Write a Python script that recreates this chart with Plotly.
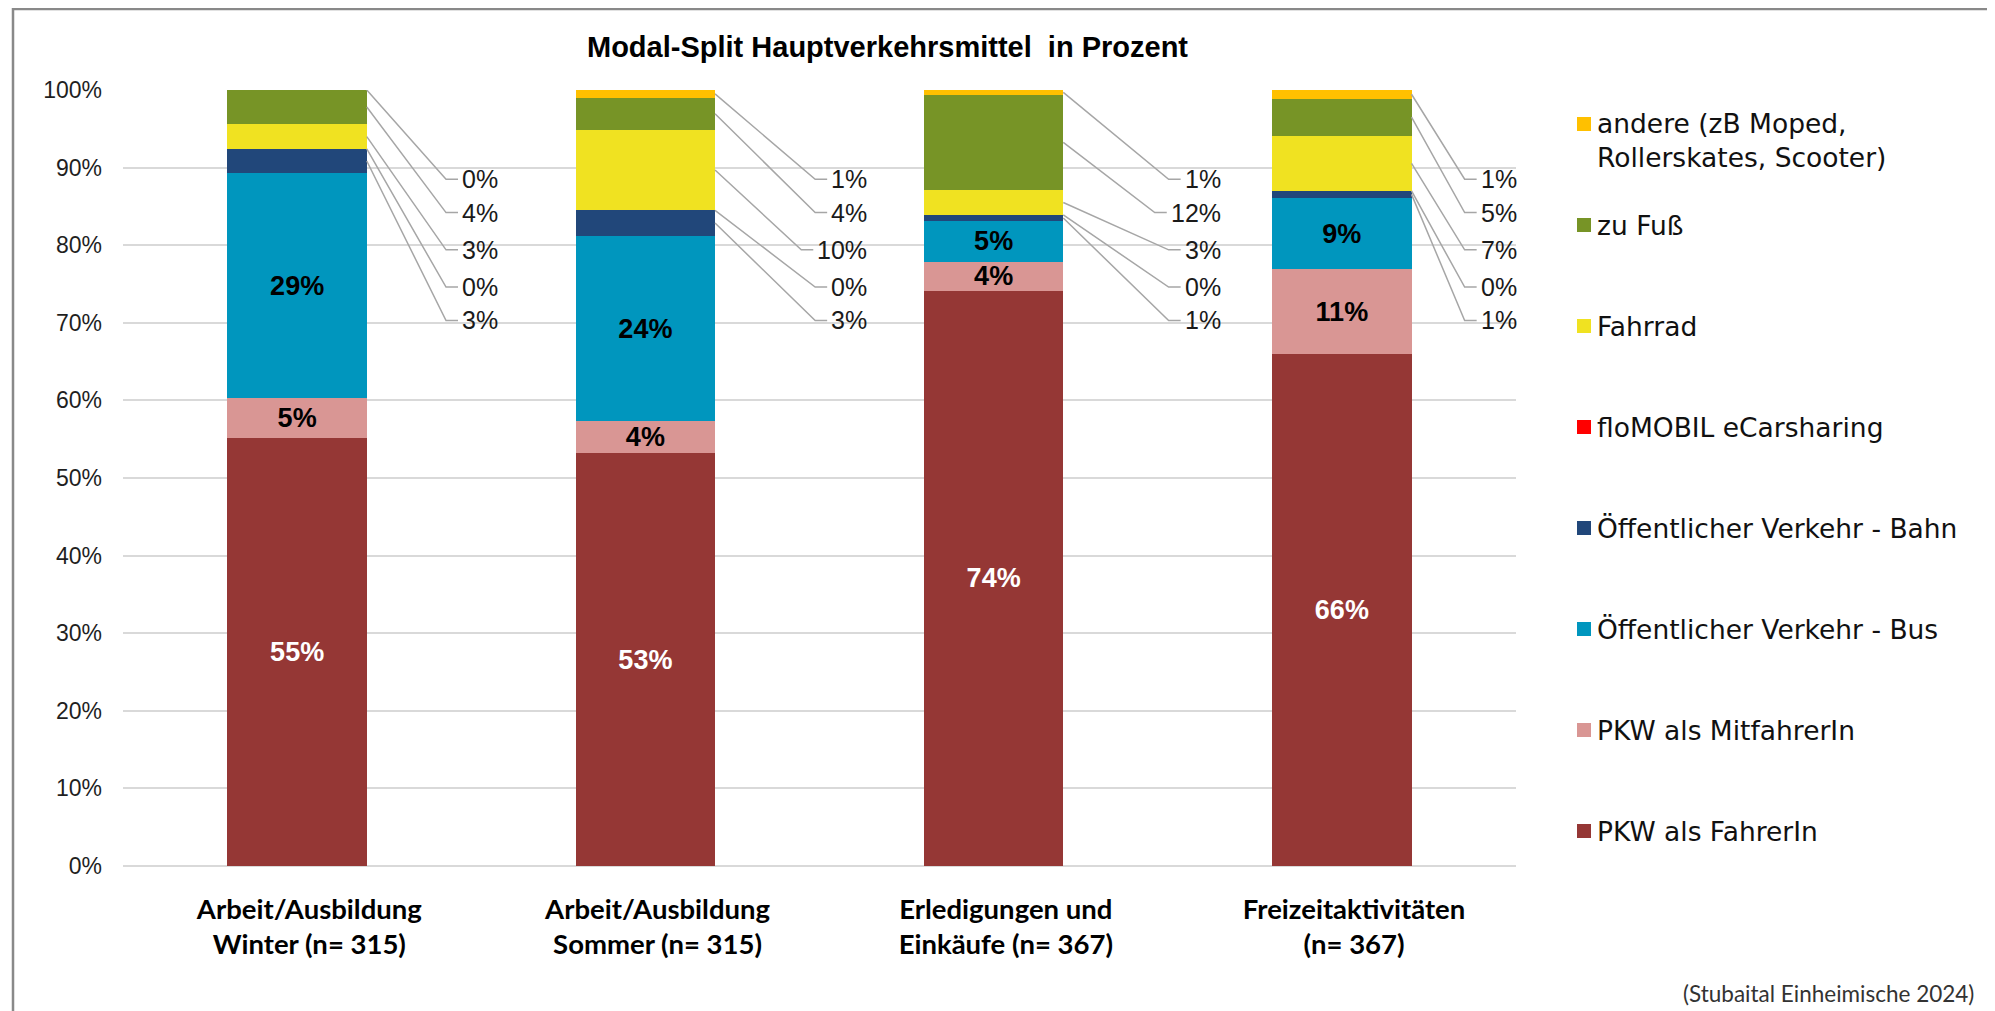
import plotly.graph_objects as go

# Kategorien (x-Achse)
categories = ["Arbeit/Ausbildung<br>Winter (n= 315)",
              "Arbeit/Ausbildung<br>Sommer (n= 315)",
              "Erledigungen und<br>Einkäufe (n= 367)",
              "Freizeitaktivitäten<br>(n= 367)"]

# Anteile in Prozent, von unten nach oben gestapelt
pkw_fahrer = [55.2, 53.2, 74.1, 66.0]
pkw_mitfahrer = [5.1, 4.1, 3.8, 10.9]
oev_bus = [29.0, 23.9, 5.2, 9.2]
oev_bahn = [3.1, 3.3, 0.8, 0.9]
flomobil = [0.0, 0.0, 0.0, 0.0]
fahrrad = [3.2, 10.4, 3.2, 7.1]
zu_fuss = [4.4, 4.1, 12.3, 4.8]
andere = [0.0, 1.0, 0.6, 1.1]

y_ticks = [0, 10, 20, 30, 40, 50, 60, 70, 80, 90, 100]

title = "Modal-Split Hauptverkehrsmittel  in Prozent"
source = "(Stubaital Einheimische 2024)"

# name, werte, farbe, label im balken, textfarbe
series = [
    ("PKW als FahrerIn", pkw_fahrer, "#953735", True, "white"),
    ("PKW als MitfahrerIn", pkw_mitfahrer, "#D99694", True, "black"),
    ("Öffentlicher Verkehr - Bus", oev_bus, "#0096BE", True, "black"),
    ("Öffentlicher Verkehr - Bahn", oev_bahn, "#21477A", False, None),
    ("floMOBIL eCarsharing", flomobil, "#FF0000", False, None),
    ("Fahrrad", fahrrad, "#F0E221", False, None),
    ("zu Fuß", zu_fuss, "#779426", False, None),
    ("andere (zB Moped,<br>Rollerskates, Scooter)", andere, "#FFC000", False, None),
]

# layout (page body has an 8px margin, so the figure is shifted by that)
OFF = 8
W, H = 1995 - OFF, 1011 - OFF
PW, PH = 1393, 776
ML, MT = 123 - OFF, 90 - OFF
MR, MB = W - ML - PW, H - MT - PH
X_RANGE = [-0.5, 3.5]
UNIT = PW / (X_RANGE[1] - X_RANGE[0])     # pixel pro kategorie

def xp(px):
    return (px - 123) / PW

def yp(py):
    return (866 - py) / PH

def x_to_paper(x):
    return (x - X_RANGE[0]) / (X_RANGE[1] - X_RANGE[0])

ARIAL = "Liberation Sans, Arial, sans-serif"
CALIBRI = "Lato, Carlito, Calibri, sans-serif"
LBL_SIZE = 25

slot_y = [88.5, 84.2, 79.4, 74.6, 70.3]      # andere, zu Fuß, Fahrrad, floMOBIL, Bahn
label_right = [0.583, 0.643, 0.658, 0.508]   # rechte textkante je balken
bar_half = 0.2

def text_w(s):
    # grobe Arial-Breite in Kategorie-Einheiten
    em = sum(0.889 if c == "%" else 0.556 for c in s)
    return em * LBL_SIZE / UNIT

xs = list(range(len(categories)))
fig = go.Figure()

base = [0.0] * len(xs)
mids = {}
for name, vals, color, inner, tcol in series:
    mids[name] = [b + v / 2 for b, v in zip(base, vals)]
    bar = go.Bar(
        x=xs, y=vals, name=name.replace("<br>", " "),
        marker=dict(color=color, line=dict(width=0)),
        showlegend=False,
        hovertemplate="%{y:.1f}%<extra>" + name.replace("<br>", " ") + "</extra>",
    )
    if inner:
        bar.update(text=[f"{v:.0f}%" for v in vals], textposition="inside",
                   insidetextanchor="middle", textangle=0, constraintext="none",
                   textfont=dict(family=ARIAL, size=27, color=tcol, weight="bold"))
    else:
        bar.update(textposition="none")
    fig.add_trace(bar)
    base = [b + v for b, v in zip(base, vals)]

# leader lines + labels for the small segments
outer = [s for s in series if not s[3]][::-1]
lx, ly = [], []
for k, (name, vals, color, inner, tcol) in enumerate(outer):
    for i in xs:
        txt = f"{vals[i]:.0f}%"
        tr = i + label_right[i]
        tl = tr - text_w(txt)
        lx += [i + bar_half, tl - 18 / UNIT, tl - 6 / UNIT, None]
        ly += [mids[name][i], slot_y[k], slot_y[k], None]
        fig.add_annotation(x=x_to_paper(tr), y=slot_y[k], xref="paper", yref="y", text=txt,
                           showarrow=False, xanchor="right", yanchor="middle",
                           font=dict(family=ARIAL, size=LBL_SIZE, color="#1a1a1a"))
fig.add_trace(go.Scatter(x=lx, y=ly, mode="lines", line=dict(color="#a6a6a6", width=1.5),
                         hoverinfo="skip", showlegend=False))

# legend (manual, Excel style)
legend_px = [124, 225, 326, 427, 528, 629, 730, 831]
for (name, vals, color, inner, tcol), py in zip(series[::-1], legend_px):
    fig.add_shape(type="rect", xref="paper", yref="paper",
                  x0=xp(1577), x1=xp(1591), y0=yp(py + 7), y1=yp(py - 7),
                  fillcolor=color, line=dict(width=0))
    multi = "<br>" in name
    fig.add_annotation(x=xp(1595), y=yp(py - 18) if multi else yp(py), xref="paper", yref="paper",
                       text=name, showarrow=False, xanchor="left",
                       yanchor="top" if multi else "middle", align="left",
                       font=dict(family="DejaVu Sans, sans-serif", size=26.5, color="#111111"))

# title + source
fig.add_annotation(x=xp(887), y=yp(47), xref="paper", yref="paper", text=title,
                   showarrow=False, xanchor="center", yanchor="middle",
                   font=dict(family=ARIAL, size=29, color="black", weight="bold"))
fig.add_annotation(x=xp(1976), y=yp(993), xref="paper", yref="paper", text=source,
                   showarrow=False, xanchor="right", yanchor="middle",
                   font=dict(family=CALIBRI, size=22.5, color="#333333"))

# outer frame
fig.add_shape(type="rect", xref="paper", yref="paper",
              x0=xp(13), x1=xp(2010), y0=yp(1030), y1=yp(9),
              line=dict(color="#898989", width=2.5), fillcolor="rgba(0,0,0,0)", layer="below")

fig.update_layout(
    width=W, height=H,
    margin=dict(l=ML, r=MR, t=MT, b=MB),
    barmode="stack", bargap=0.6,
    paper_bgcolor="white", plot_bgcolor="white",
    showlegend=False,
    xaxis=dict(range=X_RANGE, tickvals=[x + 0.035 for x in xs], ticktext=categories,
               showgrid=False, zeroline=False, showline=False, ticks="", ticklabelstandoff=24,
               tickfont=dict(family=CALIBRI, size=27.5, color="black", weight="bold")),
    yaxis=dict(range=[0, 100], tickvals=y_ticks, ticktext=[f"{t}%" for t in y_ticks],
               showgrid=True, gridcolor="#d9d9d9", gridwidth=2,
               zeroline=True, zerolinecolor="#d9d9d9", zerolinewidth=2,
               showline=False, ticks="", ticklabelstandoff=20,
               tickfont=dict(family=ARIAL, size=23, color="#1f1f1f")),
)

fig.write_html("out.html")
